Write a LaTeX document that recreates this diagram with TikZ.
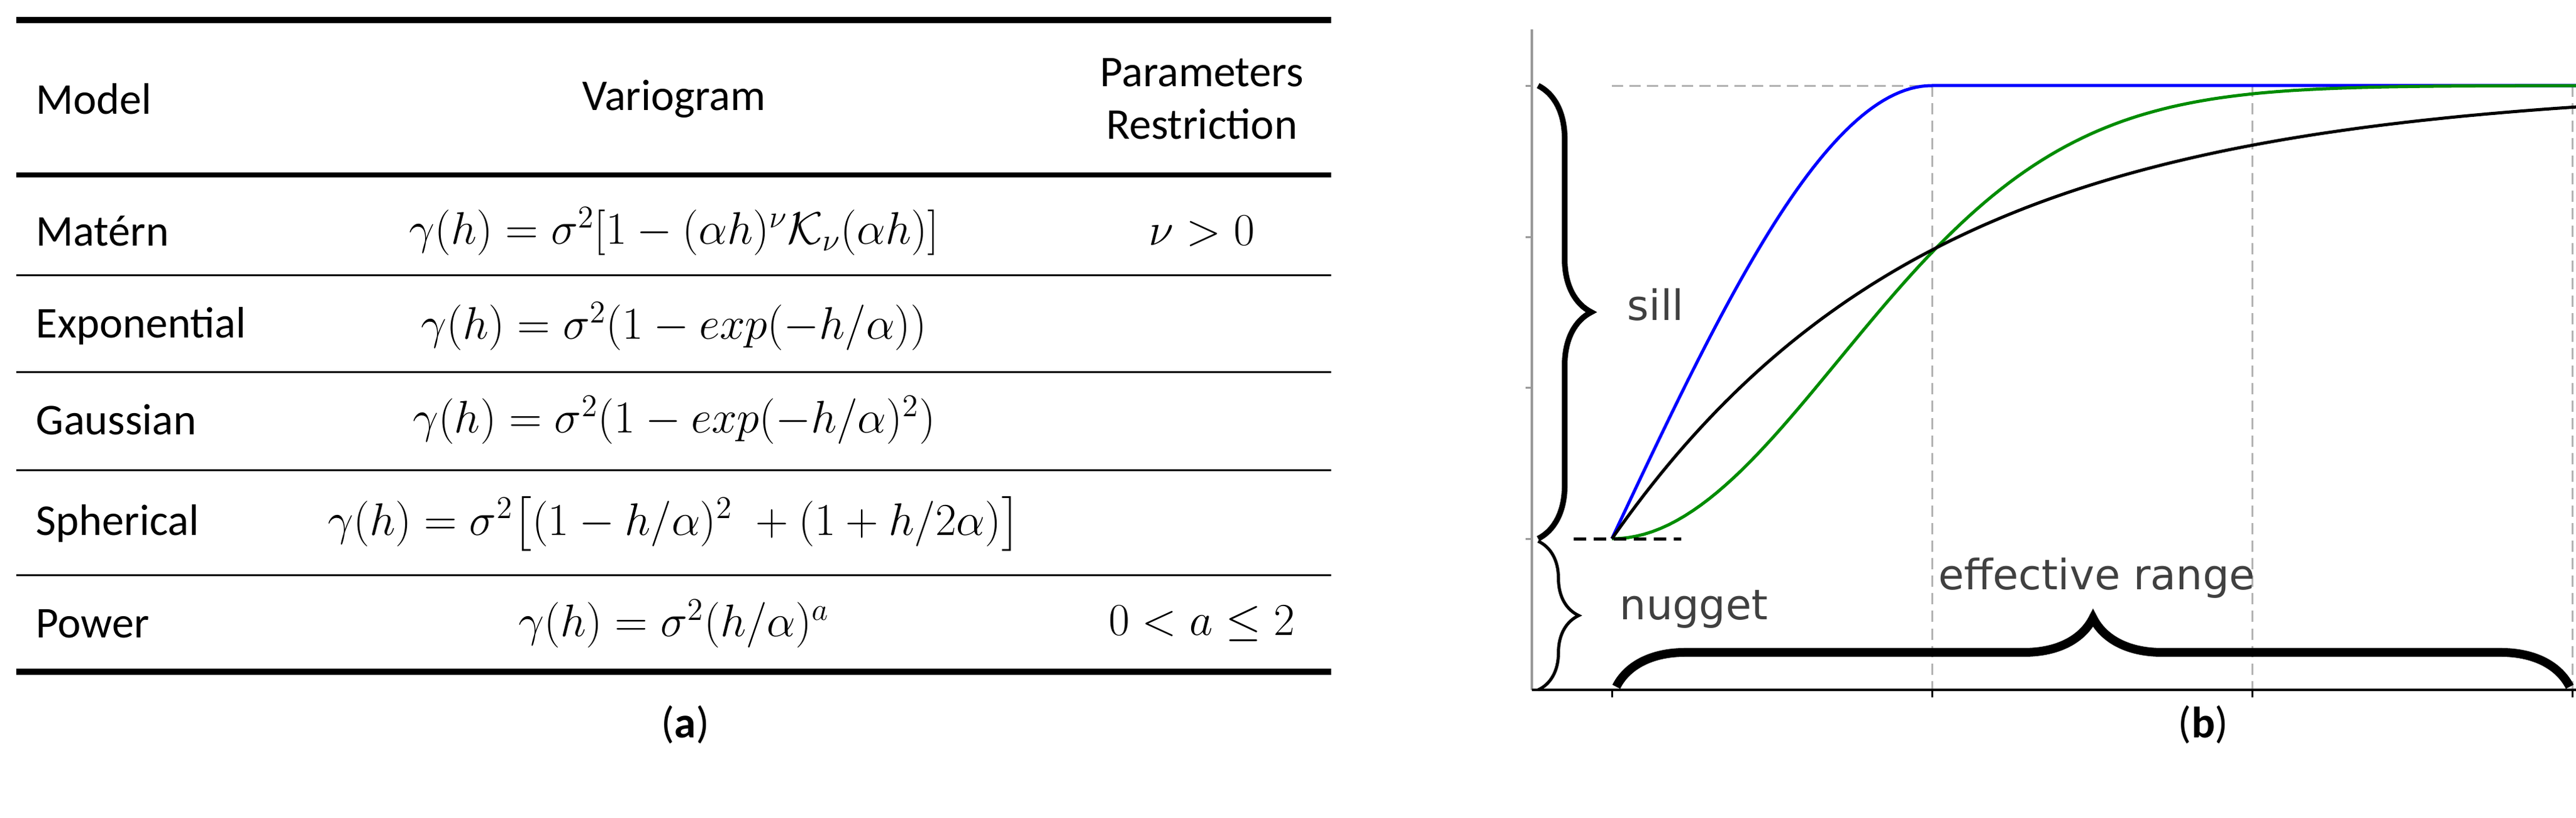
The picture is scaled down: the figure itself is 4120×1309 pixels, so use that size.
\documentclass[tikz,border=0pt]{standalone}
\usepackage{amsmath}
\usepackage{fontspec}
\setmainfont{Carlito}
\newfontfamily\plotfont{DejaVu Sans}
\usetikzlibrary{decorations.pathreplacing}
\begin{document}
\begin{tikzpicture}[x=0.01cm,y=-0.01cm,
  cell/.style={font=\fontsize{20}{24}\selectfont,inner sep=0pt},
  lab/.style={font=\plotfont\fontsize{19}{22}\selectfont,text=black!75,inner sep=0pt},
  thickrule/.style={line width=0.1cm},
  thinrule/.style={line width=0.03cm},
  grid/.style={gray!60,dashed,line width=0.03cm,dash pattern=on 0.18cm off 0.1cm},
  br/.style={decorate,decoration={brace,amplitude=#1},line width=0.09cm}]
\useasboundingbox (0,0) rectangle (4120,1309);
% table
\draw[thickrule] (26,32) -- (2129,32);
\draw[line width=0.08cm] (26,280) -- (2129,280);
\foreach \y in {440,595,752,920} \draw[thinrule] (26,\y) -- (2129,\y);
\draw[thickrule] (26,1075) -- (2129,1075);
\node[cell,anchor=west] (hm) at (57,158) {Model};
\node[cell] (hv) at (1078,158) {Variogram};
\node[cell,align=center] (hp) at (1922,158) {Parameters\\Restriction};
\node[cell,anchor=west] (m1) at (57,370) {Matérn};
\node[cell] (f1) at (1078,370) {$\gamma(h)=\sigma^2[1-(\alpha h)^{\nu}\mathcal{K}_{\nu}(\alpha h)]$};
\node[cell] (p1) at (1922,370) {$\nu>0$};
\node[cell,anchor=west] (m2) at (57,522) {Exponential};
\node[cell] (f2) at (1078,522) {$\gamma(h)=\sigma^2(1-exp(-h/\alpha))$};
\node[cell,anchor=west] (m3) at (57,672) {Gaussian};
\node[cell] (f3) at (1078,672) {$\gamma(h)=\sigma^2(1-exp(-h/\alpha)^2)$};
\node[cell,anchor=west] (m4) at (57,838) {Spherical};
\node[cell] (f4) at (1078,838) {$\gamma(h)=\sigma^2\big[(1-h/\alpha)^2\;+(1+h/2\alpha)\big]$};
\node[cell,anchor=west] (m5) at (57,998) {Power};
\node[cell] (f5) at (1078,998) {$\gamma(h)=\sigma^2(h/\alpha)^a$};
\node[cell] (p5) at (1922,998) {$0<a\leq 2$};
\node[cell] (capa) at (1096,1160) {(\textbf{a})};
% plot
\draw[grid] (2578,137) -- (3068,137);
\foreach \x in {3090,3602,4114} \draw[grid] (\x,137) -- (\x,1104);
\draw[gray!80,line width=0.04cm] (2450,47) -- (2450,1104);
\draw[black,line width=0.04cm] (2450,1104) -- (4120,1104);
\foreach \y in {137,379,620,862} \draw[gray!80,line width=0.03cm] (2440,\y) -- (2450,\y);
\foreach \x in {2578,3090,3602,4114} \draw[black,line width=0.03cm] (\x,1104) -- (\x,1116);
\draw[blue,line width=0.05cm,domain=0:512,samples=60] plot ({2578+\x},{862-725*(1.5*\x/512-0.5*(\x/512)^3)}) -- (4120,137);
\draw[green!55!black,line width=0.05cm,domain=0:1542,samples=120] plot ({2578+\x},{862-725*(1-exp(-(\x/512)^2))});
\draw[black,line width=0.05cm,domain=0:1542,samples=120] plot ({2578+\x},{862-725*(1-exp(-\x/505))});
\draw[black,line width=0.05cm,dash pattern=on 0.2cm off 0.12cm] (2517,862) -- (2689,862);
\draw[br=0.85cm] (2460,137) -- (2460,862);
\draw[br=0.65cm,line width=0.05cm] (2460,866) -- (2460,1104);
\draw[br=1.1cm,line width=0.14cm] (2585,1099) -- (4110,1099);
\node[lab,anchor=west] (sill) at (2602,488) {sill};
\node[lab,anchor=west] (nug) at (2590,975) {nugget};
\node[lab,anchor=west] (eff) at (3100,925) {effective range};
\node[cell] (capb) at (3524,1160) {(\textbf{b})};
\end{tikzpicture}
\end{document}
